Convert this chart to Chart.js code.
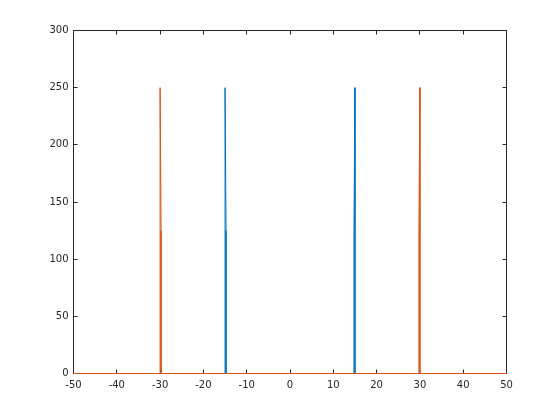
<!DOCTYPE html>
<html>
<head>
<meta charset="utf-8">
<script src="https://cdn.jsdelivr.net/npm/chart.js@4/dist/chart.umd.min.js"></script>
<style>
  html, body { margin: 0; padding: 0; background: #ffffff; }
  #wrap { width: 560px; height: 420px; position: relative; }
</style>
</head>
<body>
<div id="wrap"><canvas id="c" width="560" height="420"></canvas></div>
<script>
// Frequency (x) and magnitude (y) samples for each series
const blueFreq   = [-50, -15, -15, -14.77, -14.77, 14.77, 14.77, 15, 15, 50];
const blueMag    = [0, 0, 250, 125, 0, 0, 125, 250, 0, 0];
const orangeFreq = [-50, -30, -30, -29.77, -29.77, 29.77, 29.77, 30, 30, 50];
const orangeMag  = [0, 0, 250, 125, 0, 0, 125, 250, 0, 0];

const xTicks = [-50, -40, -30, -20, -10, 0, 10, 20, 30, 40, 50];
const yTicks = [0, 50, 100, 150, 200, 250, 300];

const AX = '#262626';

function pts(xs, ys) { return xs.map((x, i) => ({ x: x, y: ys[i] })); }

const boxPlugin = {
  id: 'box',
  beforeDatasetsDraw(chart) {
    const { ctx, scales } = chart;
    const xs = scales.x, ys = scales.y;
    const tl = 4;
    const L = 73.5, R = 506.5, T = 30.5, B = 373.5;
    ctx.save();
    ctx.strokeStyle = AX;
    ctx.lineWidth = 1;
    ctx.beginPath();
    ctx.moveTo(L, B); ctx.lineTo(L, T); ctx.lineTo(R, T); ctx.lineTo(R, B); ctx.lineTo(L, B);
    xTicks.forEach(v => {
      let px = Math.floor(xs.getPixelForValue(v)) + 0.5;
      px = Math.min(Math.max(px, L), R);
      ctx.moveTo(px, T); ctx.lineTo(px, T + tl);
      ctx.moveTo(px, B); ctx.lineTo(px, B - tl);
    });
    yTicks.forEach(v => {
      let py = Math.floor(ys.getPixelForValue(v)) + 0.5;
      py = Math.min(Math.max(py, T), B);
      ctx.moveTo(L, py); ctx.lineTo(L + tl, py);
      ctx.moveTo(R, py); ctx.lineTo(R - tl, py);
    });
    ctx.stroke();
    ctx.restore();
  }
};

new Chart(document.getElementById('c'), {
  type: 'scatter',
  data: {
    datasets: [
      { label: 'orange', data: pts(orangeFreq, orangeMag), showLine: true, borderColor: '#D95319', borderWidth: 1, pointRadius: 0, fill: false, tension: 0, clip: 4 },
      { label: 'blue', data: pts(blueFreq, blueMag), showLine: true, borderColor: '#0072BD', borderWidth: 1, pointRadius: 0, fill: false, tension: 0, clip: 4 }
    ]
  },
  options: {
    responsive: false,
    animation: false,
    devicePixelRatio: 1,
    layout: { padding: { left: 0, top: 30.5, right: 53.5, bottom: 0 } },
    plugins: { legend: { display: false }, tooltip: { enabled: false } },
    scales: {
      x: {
        type: 'linear', min: -50, max: 50,
        afterBuildTicks(s) { s.ticks = xTicks.map(v => ({ value: v })); },
        afterFit(s) { s.height = 46.5; },
        grid: { display: false, drawTicks: false },
        border: { display: false },
        ticks: { color: AX, padding: 6, maxRotation: 0, autoSkip: false, font: { family: 'DejaVu Sans', size: 10 } }
      },
      y: {
        type: 'linear', min: 0, max: 300,
        afterBuildTicks(s) { s.ticks = yTicks.map(v => ({ value: v })); },
        afterFit(s) { s.width = 73.5; },
        grid: { display: false, drawTicks: false },
        border: { display: false },
        ticks: { color: AX, padding: 5, autoSkip: false, font: { family: 'DejaVu Sans', size: 10 } }
      }
    }
  },
  plugins: [boxPlugin]
});
</script>
</body>
</html>
